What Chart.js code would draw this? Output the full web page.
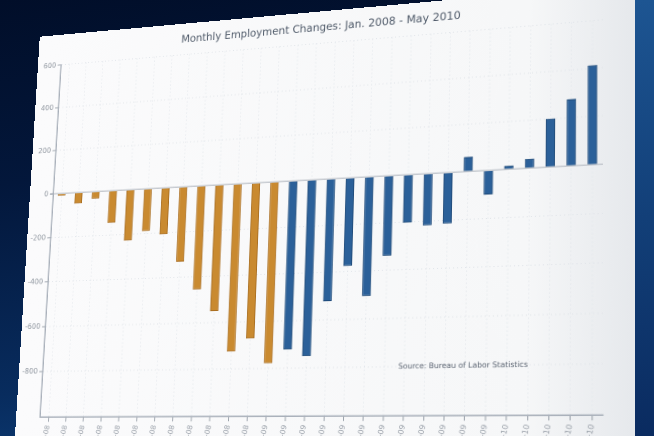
<!DOCTYPE html>
<html>
<head>
<meta charset="utf-8">
<script src="https://cdn.jsdelivr.net/npm/chart.js@4.4.1/dist/chart.umd.min.js"></script>
<style>
  html, body { margin: 0; padding: 0; width: 654px; height: 436px; overflow: hidden; }
  body {
    position: relative;
    background: linear-gradient(172deg, #010e29 0%, #03173b 35%, #082c5e 75%, #0f427f 100%);
  }
  #panel {
    position: absolute; left: 0; top: 0;
    width: 660px; height: 480px;
    transform-origin: 0 0;
    background: linear-gradient(to right, #fbfbfc 0%, #f6f7f8 82%, #e3e6ea 100%);
  }
  #panel canvas { display: block; }
  #strip {
    position: absolute; left: 635px; top: 0; width: 19px; height: 436px;
    background: linear-gradient(to bottom, #1d5592 0%, #123f78 50%, #0a2b60 100%);
  }
</style>
</head>
<body>
<div id="panel"><canvas id="myChart" width="620" height="480"></canvas></div>
<div id="strip"></div>
<script>
const months = [
  "Jan-08", "Feb-08", "Mar-08", "Apr-08", "May-08", "Jun-08", "Jul-08", "Aug-08",
  "Sep-08", "Oct-08", "Nov-08", "Dec-08", "Jan-09", "Feb-09", "Mar-09", "Apr-09",
  "May-09", "Jun-09", "Jul-09", "Aug-09", "Sep-09", "Oct-09", "Nov-09", "Dec-09",
  "Jan-10", "Feb-10", "Mar-10", "Apr-10", "May-10"
];
// thousands of jobs
const jobChanges = [
  -10, -50, -32, -145, -228, -189, -207, -331, -455, -551, -726, -672, -778,
  -722, -751, -522, -376, -505, -339, -203, -218, -214, 61, -101, 15, 39, 201, 277, 413
];
const yTicks = [600, 400, 200, 0, -200, -400, -600, -800];
const firstBlue = months.indexOf("Feb-09");
const titleText = "Monthly Employment Changes: Jan. 2008 - May 2010";
const sourceNote = "Source: Bureau of Labor Statistics";

const orange = "#c98a30", orangeEdge = "#a96d1f";
const blue = "#2b6099", blueEdge = "#1c4878";

// corners of the plot area as seen on the photographed screen
const plotQuad = [[61, 65], [603, 20], [603, 415], [40, 417]];

function quadTransform(r, q) {
  const [[x0, y0], [x1, y1], [x2, y2], [x3, y3]] = q;
  const dx1 = x1 - x2, dx2 = x3 - x2, sx = x0 - x1 + x2 - x3;
  const dy1 = y1 - y2, dy2 = y3 - y2, sy = y0 - y1 + y2 - y3;
  const den = dx1 * dy2 - dx2 * dy1;
  const g = (sx * dy2 - dx2 * sy) / den;
  const h = (dx1 * sy - sx * dy1) / den;
  const a = x1 - x0 + g * x1, b = x3 - x0 + h * x3, c = x0;
  const d = y1 - y0 + g * y1, e = y3 - y0 + h * y3, f = y0;
  const sw = r.right - r.left, sh = r.bottom - r.top, L = r.left, T = r.top;
  const m = [
    [a / sw, b / sh, c - a * L / sw - b * T / sh],
    [d / sw, e / sh, f - d * L / sw - e * T / sh],
    [g / sw, h / sh, 1 - g * L / sw - h * T / sh]
  ];
  return "matrix3d(" + [m[0][0], m[1][0], 0, m[2][0], m[0][1], m[1][1], 0, m[2][1],
    0, 0, 1, 0, m[0][2], m[1][2], 0, m[2][2]].join(",") + ")";
}

const sourcePlugin = {
  id: "sourceNote",
  afterDatasetsDraw(chart) {
    const { ctx, chartArea: a } = chart;
    ctx.save();
    ctx.font = '7.5px "DejaVu Sans"';
    ctx.fillStyle = "#5e6774";
    ctx.textBaseline = "middle";
    ctx.fillText(sourceNote, a.left + a.width * 0.662, a.top + a.height * 0.875);
    ctx.restore();
  }
};

const ctx = document.getElementById("myChart");
const chart = new Chart(ctx, {
  type: "bar",
  data: {
    labels: months,
    datasets: [{
      data: jobChanges,
      backgroundColor: (c) => c.dataIndex < firstBlue ? orange : blue,
      borderColor: (c) => c.dataIndex < firstBlue ? orangeEdge : blueEdge,
      borderWidth: 1,
      barPercentage: 0.45,
      categoryPercentage: 1
    }]
  },
  options: {
    responsive: false,
    devicePixelRatio: 2,
    animation: false,
    layout: { padding: { top: 0, left: 2, right: 6, bottom: 20 } },
    plugins: {
      legend: { display: false },
      tooltip: { enabled: false },
      title: {
        display: true,
        fullSize: false, // centre over the plot, not the whole canvas
        text: titleText,
        color: "#4f5a69",
        font: { family: "DejaVu Sans", size: 11.4, weight: "normal" },
        padding: { top: 11, bottom: 10 }
      }
    },
    scales: {
      x: {
        grid: {
          offset: false,
          color: "#e2e6eb",
          tickColor: "#9ba2ab",
          tickLength: 5
        },
        border: { color: "#a9b0ba", width: 1.5, dash: [1, 3] },
        ticks: {
          autoSkip: false,
          minRotation: 78,
          maxRotation: 78,
          color: "#979ea7",
          font: { family: "DejaVu Sans", size: 7.5 }
        }
      },
      y: {
        min: -1000,
        max: 600,
        afterBuildTicks: (s) => { s.ticks = yTicks.map((v) => ({ value: v })); },
        grid: {
          color: (c) => c.tick && c.tick.value === 0 ? "#c6cad0" : "#e0e4e9",
          lineWidth: (c) => c.tick && c.tick.value === 0 ? 1.5 : 1,
          tickColor: "#9ba2ab",
          tickLength: 4
        },
        border: {
          color: "#a9b0ba", width: 1.5,
          dash: (c) => c.tick && c.tick.value === 0 ? [] : [1, 3]
        },
        ticks: {
          color: "#8e959e",
          padding: 2,
          font: { family: "DejaVu Sans", size: 8 }
        }
      }
    }
  },
  plugins: [sourcePlugin]
});

document.getElementById("panel").style.transform = quadTransform(chart.chartArea, plotQuad);
</script>
</body>
</html>
